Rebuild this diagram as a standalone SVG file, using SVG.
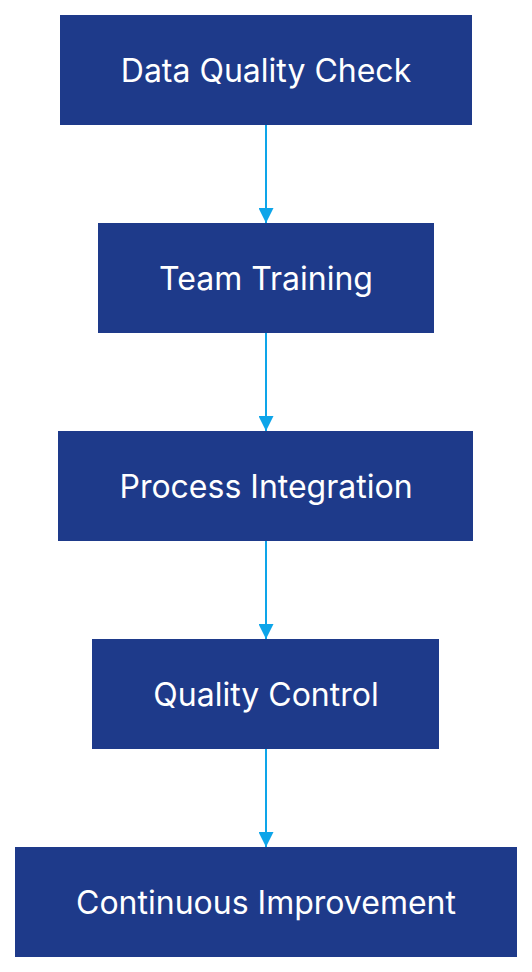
<svg xmlns="http://www.w3.org/2000/svg" width="532" height="972" viewBox="0 0 532 972">
<style>
.node rect{fill:#1e3a8a}
.node text{fill:#ffffff;font-family:Inter,"Noto Sans",sans-serif;font-size:32px;text-anchor:middle;dominant-baseline:central}
.edge{stroke:#0ea5e9;stroke-width:2;fill:none;marker-end:url(#arr)}
</style>
<defs>
<marker id="arr" markerUnits="userSpaceOnUse" markerWidth="16" markerHeight="15" refX="16" refY="8" orient="auto" viewBox="0 0 16 16">
<path d="M0,0 L16,8 L0,16 Z" fill="#0ea5e9"/>
</marker>
</defs>
<rect width="532" height="972" fill="#ffffff"/>
<g id="connectors">
<path class="edge" d="M266,125 L266,223"/>
<path class="edge" d="M266,333 L266,431"/>
<path class="edge" d="M266,541 L266,639"/>
<path class="edge" d="M266,749 L266,847"/>
</g>
<g id="n1" class="node"><rect x="60" y="15" width="412" height="110"/><text x="266" y="70">Data Quality Check</text></g>
<g id="n2" class="node"><rect x="98" y="223" width="336" height="110"/><text x="266" y="278">Team Training</text></g>
<g id="n3" class="node"><rect x="58" y="431" width="415" height="110"/><text x="266" y="486">Process Integration</text></g>
<g id="n4" class="node"><rect x="92" y="639" width="347" height="110"/><text x="266" y="694">Quality Control</text></g>
<g id="n5" class="node"><rect x="15" y="847" width="502" height="110"/><text x="266" y="902">Continuous Improvement</text></g>
</svg>
